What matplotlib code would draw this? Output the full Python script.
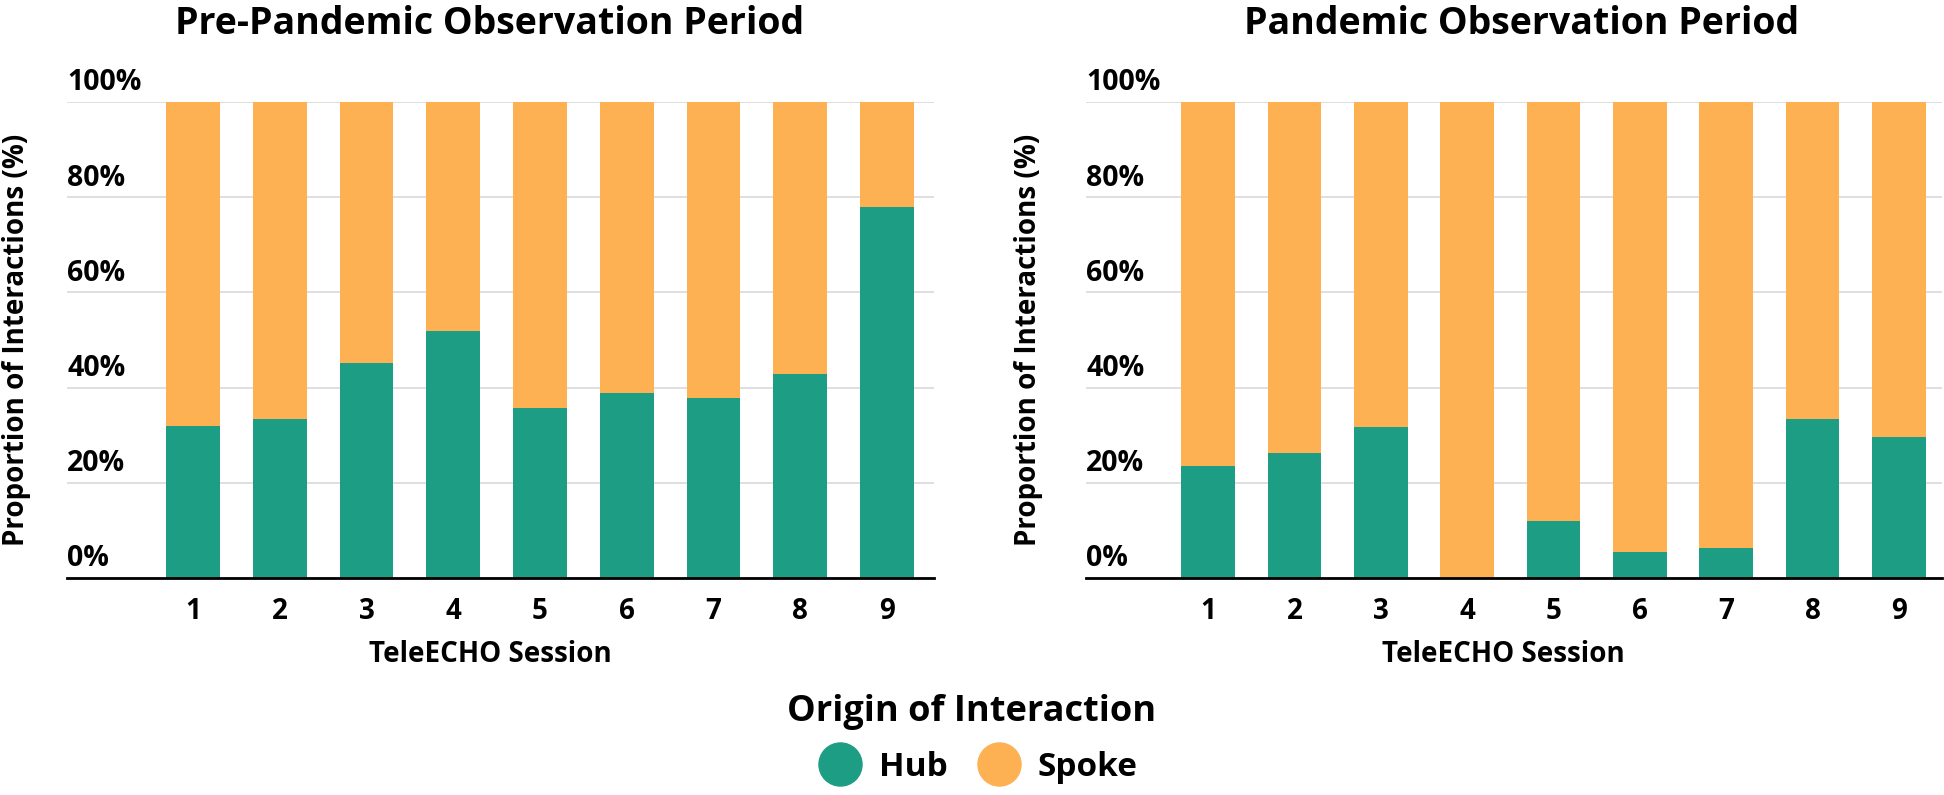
import numpy as np
import matplotlib.pyplot as plt
from matplotlib.lines import Line2D

plt.rcParams['font.family'] = ['Open Sans', 'DejaVu Sans']
plt.rcParams['font.weight'] = 'bold'

# data (share of interactions, %)
sessions = [1, 2, 3, 4, 5, 6, 7, 8, 9]
pre_hub = [31.9, 33.4, 45.2, 51.9, 35.8, 38.9, 37.9, 42.9, 77.9]
pan_hub = [23.5, 26.3, 31.7, 0.0, 12.0, 5.5, 6.3, 33.3, 29.7]
yticks = [0, 20, 40, 60, 80, 100]
titles = ['Pre-Pandemic Observation Period', 'Pandemic Observation Period']

hub_col = '#1d9e84'
spoke_col = '#fdb152'

fig = plt.figure(figsize=(19.44, 7.95), dpi=100)
ax1 = fig.add_axes([67/1944, 1 - 578/795, 867/1944, 476/795])
ax2 = fig.add_axes([1086/1944, 1 - 578/795, 856/1944, 476/795])

for ax, hub, title, xlim in [(ax1, pre_hub, titles[0], (-0.453, 9.542)),
                             (ax2, pan_hub, titles[1], (-0.414, 9.50))]:
    hub = np.array(hub)
    spoke = 100 - hub
    ax.bar(sessions, hub, width=0.62, color=hub_col, zorder=3)
    ax.bar(sessions, spoke, bottom=hub, width=0.62, color=spoke_col, zorder=3)

    ax.set_xlim(*xlim)
    ax.set_ylim(0, 100)
    ax.set_yticks(yticks)
    ax.set_yticklabels([])
    ax.yaxis.grid(True, color='#d9d9d9', lw=1.2, zorder=0)
    ax.tick_params(axis='y', length=0)
    for v in yticks:
        ax.text(0, v + 4.0, '{}%'.format(v), transform=ax.get_yaxis_transform(),
                ha='left', va='center', fontsize=20.5, fontweight='bold')

    ax.set_xticks(sessions)
    ax.set_xticklabels([str(s) for s in sessions], fontsize=20, fontweight='bold')
    ax.tick_params(axis='x', length=0, pad=14)

    for s in ['top', 'right', 'left']:
        ax.spines[s].set_visible(False)
    ax.spines['bottom'].set_linewidth(2)
    ax.spines['bottom'].set_color('black')
    ax.spines['bottom'].set_zorder(4)

    ax.set_xlabel('TeleECHO Session', fontsize=20, fontweight='bold', va='center')
    ax.xaxis.set_label_coords(0.488, -0.161)
    ax.set_ylabel('Proportion of Interactions (%)', fontsize=20, fontweight='bold', va='center')

fig.text(490/1944, 1 - 24/795, titles[0], ha='center', va='center', fontsize=27, fontweight='bold')
fig.text(1522/1944, 1 - 24/795, titles[1], ha='center', va='center', fontsize=27, fontweight='bold')

ax1.yaxis.set_label_coords(-0.0577, 0.5)
ax2.yaxis.set_label_coords(-0.0666, 0.5)

handles = [Line2D([], [], marker='o', ls='', markersize=31, color=hub_col),
           Line2D([], [], marker='o', ls='', markersize=31, color=spoke_col)]
fig.legend(handles, ['Hub', 'Spoke'], loc='center', bbox_to_anchor=(972/1944, 1 - 739/795),
           ncol=2, frameon=False, title='Origin of Interaction',
           title_fontproperties={'size': 26, 'weight': 'bold'},
           prop={'size': 24, 'weight': 'bold'}, handletextpad=0.15,
           columnspacing=0.55, borderpad=0, labelspacing=0.62)

fig.savefig('out.png', dpi=100)
